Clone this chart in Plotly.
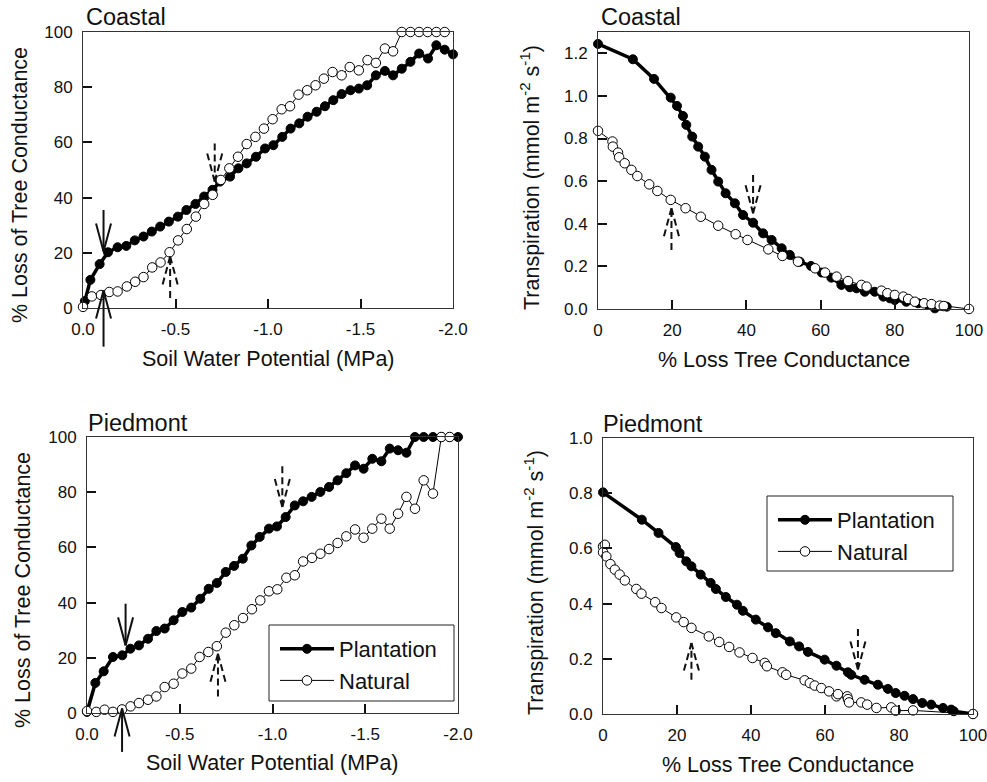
import plotly.graph_objects as go

W, H = 987, 782
FONT = "Liberation Sans, Arial, sans-serif"

# ---------------- DATA ----------------
# Coastal: % loss of tree conductance vs soil water potential (MPa)
coastal_plant_swp = [-0.01, -0.04, -0.09, -0.135, -0.187, -0.234, -0.28, -0.327, -0.372, -0.417,
                     -0.464, -0.513, -0.559, -0.608, -0.655, -0.70, -0.74, -0.795, -0.84, -0.885,
                     -0.935, -0.984, -1.029, -1.077, -1.122, -1.169, -1.214, -1.263, -1.308, -1.353,
                     -1.398, -1.446, -1.491, -1.536, -1.583, -1.632, -1.676, -1.723, -1.77, -1.817,
                     -1.865, -1.91, -1.955, -2.0]
coastal_plant_plc = [2.5, 10.2, 15.9, 20.2, 22.0, 22.5, 24.5, 25.9, 27.7, 29.5,
                     31.3, 33.1, 35.5, 37.7, 40.4, 42.8, 45.8, 47.6, 50.6, 52.4,
                     54.8, 57.8, 59.0, 62.0, 65.0, 66.9, 69.3, 71.1, 73.1, 75.3,
                     77.5, 78.9, 79.5, 80.7, 84.3, 85.9, 84.3, 86.7, 89.2, 92.2,
                     90.4, 95.2, 93.6, 91.9]
coastal_nat_swp = [0.0, -0.048, -0.097, -0.142, -0.187, -0.237, -0.282, -0.327, -0.374, -0.419,
                   -0.468, -0.514, -0.561, -0.61, -0.655, -0.701, -0.745, -0.791, -0.838, -0.885,
                   -0.932, -0.978, -1.025, -1.074, -1.119, -1.165, -1.212, -1.257, -1.302, -1.349,
                   -1.398, -1.442, -1.491, -1.538, -1.583, -1.632, -1.676, -1.723, -1.77, -1.817,
                   -1.863, -1.91, -1.955]
coastal_nat_plc = [0.4, 4.2, 4.7, 5.8, 6.0, 7.8, 9.5, 11.2, 14.7, 16.5,
                   20.2, 24.5, 28.6, 33.1, 37.7, 41.0, 46.4, 50.6, 54.8, 59.4,
                   62.0, 65.0, 68.4, 72.0, 73.1, 77.3, 78.9, 80.7, 83.1, 85.5,
                   84.3, 87.3, 86.1, 89.8, 88.8, 94.0, 93.0, 100, 100, 100,
                   100, 100, 100]

# Coastal: transpiration (mmol m-2 s-1) vs % loss tree conductance
coastal_plant_loss = [0, 9.4, 15.1, 19.6, 21.3, 22.9, 23.8, 25.4, 27.0, 28.8,
                      30.6, 32.4, 34.4, 36.9, 39.1, 41.8, 44.5, 46.8, 49.5, 51.7,
                      54.4, 57.4, 60.3, 62.9, 65.6, 67.9, 69.7, 71.9, 74.6, 76.9,
                      78.7, 80.0, 83.1, 86.3, 89.0, 90.8, 93.1, 94.0]
coastal_plant_tr = [1.244, 1.172, 1.080, 0.992, 0.953, 0.906, 0.864, 0.809, 0.762, 0.715,
                    0.653, 0.598, 0.543, 0.496, 0.441, 0.405, 0.355, 0.324, 0.285, 0.254,
                    0.222, 0.202, 0.171, 0.147, 0.113, 0.102, 0.097, 0.081, 0.081, 0.058,
                    0.050, 0.042, 0.034, 0.027, 0.019, 0.003, 0.014, 0.011]
coastal_nat_loss = [0, 3.9, 4.0, 5.4, 5.7, 7.2, 9.0, 10.6, 13.8, 16.0,
                    19.6, 23.6, 27.7, 32.4, 37.1, 40.3, 45.9, 49.7, 53.9, 58.5,
                    61.2, 64.3, 67.4, 71.0, 72.4, 76.4, 78.0, 80.0, 82.3, 83.6,
                    85.4, 87.9, 89.9, 92.1, 93.2, 100]
coastal_nat_tr = [0.836, 0.786, 0.762, 0.734, 0.712, 0.684, 0.653, 0.624, 0.585, 0.554,
                  0.512, 0.473, 0.433, 0.391, 0.351, 0.324, 0.280, 0.249, 0.222, 0.191,
                  0.171, 0.152, 0.131, 0.113, 0.105, 0.086, 0.074, 0.066, 0.058, 0.047,
                  0.034, 0.027, 0.023, 0.016, 0.014, 0.0]

# Piedmont: % loss of tree conductance vs soil water potential (MPa)
piedmont_plant_swp = [0.0, -0.045, -0.09, -0.14, -0.19, -0.234, -0.28, -0.329, -0.374, -0.419,
                      -0.467, -0.514, -0.562, -0.611, -0.656, -0.70, -0.748, -0.793, -0.84, -0.886,
                      -0.931, -0.981, -1.024, -1.071, -1.12, -1.165, -1.211, -1.258, -1.305, -1.351,
                      -1.398, -1.445, -1.491, -1.538, -1.587, -1.632, -1.677, -1.722, -1.768, -1.815,
                      -1.865, -1.91, -1.955, -2.0]
piedmont_plant_plc = [0.4, 10.9, 15.1, 20.3, 20.9, 23.3, 24.5, 26.9, 29.7, 30.6,
                      33.6, 36.6, 38.2, 41.4, 45.0, 47.1, 51.1, 53.3, 55.9, 60.7,
                      63.8, 66.8, 67.6, 71.0, 75.2, 76.7, 78.3, 80.1, 81.9, 84.3,
                      86.9, 89.7, 88.5, 92.1, 91.2, 95.8, 95.2, 94.3, 100, 100,
                      100, 100, 100, 100]
piedmont_nat_swp = [0.0, -0.05, -0.095, -0.14, -0.189, -0.235, -0.28, -0.329, -0.374, -0.419,
                    -0.467, -0.514, -0.562, -0.607, -0.654, -0.70, -0.748, -0.794, -0.841, -0.889,
                    -0.934, -0.981, -1.026, -1.075, -1.12, -1.165, -1.213, -1.258, -1.305, -1.351,
                    -1.398, -1.445, -1.491, -1.538, -1.587, -1.632, -1.677, -1.722, -1.768, -1.815,
                    -1.865, -1.91, -1.955]
piedmont_nat_plc = [0.7, 0.4, 1.2, 0.4, 1.3, 2.4, 3.6, 4.8, 6.0, 9.4,
                    10.6, 14.3, 16.1, 20.3, 22.1, 24.2, 29.1, 31.8, 34.4, 37.6,
                    40.8, 44.1, 44.8, 49.0, 49.9, 54.9, 56.2, 57.7, 59.4, 61.6,
                    64.0, 66.5, 63.5, 66.8, 70.4, 66.8, 72.2, 78.3, 74.0, 84.3,
                    79.5, 100, 100]

# Piedmont: transpiration (mmol m-2 s-1) vs % loss tree conductance
piedmont_plant_loss = [0, 10.5, 15.0, 19.7, 20.7, 22.5, 23.9, 26.4, 29.1, 30.5,
                       33.2, 36.2, 37.8, 41.3, 44.6, 46.7, 50.5, 53.0, 55.4, 59.9,
                       63.1, 66.2, 67.1, 70.7, 74.3, 77.0, 79.1, 81.5, 83.8, 86.3,
                       88.7, 91.9, 94.1, 94.8, 100]
piedmont_plant_tr = [0.803, 0.704, 0.656, 0.605, 0.583, 0.553, 0.535, 0.505, 0.475, 0.453,
                     0.424, 0.396, 0.374, 0.342, 0.314, 0.293, 0.263, 0.245, 0.225, 0.197,
                     0.175, 0.151, 0.142, 0.124, 0.106, 0.091, 0.076, 0.066, 0.054, 0.040,
                     0.034, 0.022, 0.016, 0.010, 0.0]
piedmont_nat_loss = [0, 0.5, 0, 0.9, 2.0, 3.2, 4.5, 5.9, 9.0, 10.4,
                     14.1, 15.8, 19.8, 21.8, 23.9, 28.6, 31.4, 34.1, 36.9, 40.4,
                     43.7, 44.3, 48.5, 49.5, 54.5, 55.9, 57.2, 59.0, 61.1, 63.1,
                     63.5, 66.0, 66.2, 66.5, 69.8, 71.4, 73.9, 77.9, 79.1, 83.8,
                     100]
piedmont_nat_tr = [0.607, 0.613, 0.586, 0.571, 0.543, 0.523, 0.505, 0.484, 0.453, 0.436,
                   0.405, 0.384, 0.350, 0.333, 0.312, 0.281, 0.261, 0.243, 0.223, 0.203,
                   0.185, 0.173, 0.151, 0.142, 0.122, 0.112, 0.103, 0.094, 0.082, 0.064,
                   0.072, 0.064, 0.054, 0.042, 0.042, 0.034, 0.022, 0.024, 0.012, 0.013,
                   0.0]

swp_ticks = [0, -0.5, -1.0, -1.5, -2.0]
swp_ticktext = ["0.0", "-0.5", "-1.0", "-1.5", "-2.0"]
plc_ticks = [0, 20, 40, 60, 80, 100]
loss_ticks = [0, 20, 40, 60, 80, 100]
tr_ticks_coastal = [0.0, 0.2, 0.4, 0.6, 0.8, 1.0, 1.2]
tr_ticks_piedmont = [0.0, 0.2, 0.4, 0.6, 0.8, 1.0]

series_names = ["Plantation", "Natural"]
panel_titles = ["Coastal", "Coastal", "Piedmont", "Piedmont"]

# arrows: (x_tail, y_tail, x_tip, y_tip, dashed) in data units of each panel
arrows = {
    1: [(-0.111, 35.5, -0.111, 20.5, False), (-0.111, -14.0, -0.111, 6.3, False),
        (-0.712, 59.6, -0.712, 45.8, True), (-0.471, 3.6, -0.471, 18.7, True)],
    2: [(41.8, 0.629, 41.8, 0.449, True), (19.8, 0.277, 19.8, 0.473, True)],
    3: [(-0.208, 39.6, -0.208, 24.5, False), (-0.189, -14.1, -0.189, 1.6, False),
        (-1.053, 89.4, -1.053, 74.6, True), (-0.706, 6.0, -0.706, 21.5, True)],
    4: [(23.9, 0.124, 23.9, 0.257, True), (68.9, 0.308, 68.9, 0.161, True)],
}

# ---------------- LAYOUT GEOMETRY (px) ----------------
boxes = {1: (83, 453, 32, 308), 2: (598, 969, 32, 309),
         3: (87, 458, 437, 713), 4: (603, 973, 438, 714)}
ranges = {1: ([0, -2.0], [0, 100]), 2: ([0, 100], [0, 1.3]),
          3: ([0, -2.0], [0, 100]), 4: ([0, 100], [0, 1.0])}
legend_boxes = {"legend": (269, 454, 625, 701), "legend2": (767, 953, 496, 571)}

fig = go.Figure()


def add_pair(i, xp, yp, xn, yn, legend_name):
    xa = "x" if i == 1 else f"x{i}"
    ya = "y" if i == 1 else f"y{i}"
    show = legend_name is not None
    fig.add_trace(go.Scatter(
        x=xp, y=yp, mode="lines+markers", name=series_names[0], xaxis=xa, yaxis=ya,
        line=dict(color="black", width=3.5),
        marker=dict(symbol="circle", size=9, color="black", line=dict(color="black", width=1)),
        cliponaxis=False, showlegend=show, legend=legend_name or "legend"))
    fig.add_trace(go.Scatter(
        x=xn, y=yn, mode="lines+markers", name=series_names[1], xaxis=xa, yaxis=ya,
        line=dict(color="black", width=1),
        marker=dict(symbol="circle", size=9.5, color="white", line=dict(color="black", width=1)),
        cliponaxis=False, showlegend=show, legend=legend_name or "legend"))


add_pair(1, coastal_plant_swp, coastal_plant_plc, coastal_nat_swp, coastal_nat_plc, None)
add_pair(2, coastal_plant_loss, coastal_plant_tr, coastal_nat_loss, coastal_nat_tr, None)
add_pair(3, piedmont_plant_swp, piedmont_plant_plc, piedmont_nat_swp, piedmont_nat_plc, "legend")
add_pair(4, piedmont_plant_loss, piedmont_plant_tr, piedmont_nat_loss, piedmont_nat_tr, "legend2")

tickfont = dict(family=FONT, size=17, color="#111")
axis_common = dict(showline=True, mirror=True, linecolor="#333", linewidth=1,
                   ticks="inside", ticklen=9, tickwidth=2, tickcolor="#111",
                   showgrid=False, zeroline=False, tickfont=tickfont,
                   ticklabelstandoff=6, ticklabeloverflow="allow",
                   automargin=False, fixedrange=True)

layout = dict(width=W, height=H, margin=dict(l=0, r=0, t=0, b=0),
              paper_bgcolor="white", plot_bgcolor="white",
              font=dict(family=FONT, color="#111"))

tick_sets = {1: (swp_ticks, swp_ticktext, plc_ticks, None),
             2: (loss_ticks, None, tr_ticks_coastal, ".1f"),
             3: (swp_ticks, swp_ticktext, plc_ticks, None),
             4: (loss_ticks, None, tr_ticks_piedmont, ".1f")}

for i, (x0, x1, y0, y1) in boxes.items():
    xk = "xaxis" if i == 1 else f"xaxis{i}"
    yk = "yaxis" if i == 1 else f"yaxis{i}"
    ya = "y" if i == 1 else f"y{i}"
    xa = "x" if i == 1 else f"x{i}"
    xt, xtt, yt, yfmt = tick_sets[i]
    xr, yr = ranges[i]
    xd = dict(axis_common, domain=[x0 / W, x1 / W], anchor=ya, range=xr, tickvals=xt)
    if xtt is not None:
        xd["ticktext"] = xtt
    yd = dict(axis_common, domain=[1 - y1 / H, 1 - y0 / H], anchor=xa, range=yr, tickvals=yt)
    if yfmt:
        yd["tickformat"] = yfmt
    layout[xk] = xd
    layout[yk] = yd

shapes = []
# legends (Piedmont panels): box drawn as a shape, entries by plotly legend
for lk, (lx0, lx1, ly0, ly1) in legend_boxes.items():
    shapes.append(dict(type="rect", xref="paper", yref="paper",
                       x0=lx0 / W, x1=lx1 / W, y0=1 - ly1 / H, y1=1 - ly0 / H,
                       line=dict(color="#222", width=1), fillcolor="white", layer="above"))
    layout[lk] = dict(bgcolor="rgba(0,0,0,0)", borderwidth=0,
                      font=dict(family=FONT, size=22, color="#111"),
                      itemwidth=54, xanchor="left", yanchor="top", traceorder="normal",
                      itemclick=False, itemdoubleclick=False,
                      x=(lx0 + 6) / W, y=1 - (ly0 + 3) / H)

annotations = []
title_pos = {1: (84, 17), 2: (599, 17), 3: (86, 423), 4: (601, 424)}
for i, (px, py) in title_pos.items():
    annotations.append(dict(text=panel_titles[i - 1], xref="paper", yref="paper",
                            x=px / W, y=1 - py / H, xanchor="left", yanchor="middle",
                            showarrow=False, font=dict(family=FONT, size=23.5, color="#111")))

xtitles = {1: "Soil Water Potential (MPa)", 2: "% Loss Tree Conductance",
           3: "Soil Water Potential (MPa)", 4: "% Loss Tree Conductance"}
ytitles = {1: "% Loss of Tree Conductance",
           2: "Transpiration (mmol m<sup>-2</sup> s<sup>-1</sup>)",
           3: "% Loss of Tree Conductance",
           4: "Transpiration (mmol m<sup>-2</sup> s<sup>-1</sup>)"}
xtitle_y = {1: 359, 2: 360, 3: 763, 4: 765}
ytitle_pos = {1: (20, 185), 2: (530, 178), 3: (23, 590), 4: (534, 583)}
for i, (x0, x1, y0, y1) in boxes.items():
    annotations.append(dict(text=xtitles[i], xref="paper", yref="paper",
                            x=(x0 + x1) / 2 / W, y=1 - xtitle_y[i] / H,
                            xanchor="center", yanchor="middle", showarrow=False,
                            font=dict(family=FONT, size=21.5, color="#111")))
    tx, ty = ytitle_pos[i]
    annotations.append(dict(text=ytitles[i], xref="paper", yref="paper",
                            x=tx / W, y=1 - ty / H, textangle=-90,
                            xanchor="center", yanchor="middle", showarrow=False,
                            font=dict(family=FONT, size=21.5, color="#111")))
layout["annotations"] = annotations

# arrows as unclipped shapes in axis-domain coordinates
HEAD_LEN, HEAD_HALF = 28, 7.5
for i, lst in arrows.items():
    x0, x1, y0, y1 = boxes[i]
    pw, ph = x1 - x0, y1 - y0
    xr, yr = ranges[i]
    xa = "x" if i == 1 else f"x{i}"
    ya = "y" if i == 1 else f"y{i}"

    def fx(v):
        return (v - xr[0]) / (xr[1] - xr[0])

    def fy(v):
        return (v - yr[0]) / (yr[1] - yr[0])

    for (xt_, yt_, xh, yh, dashed) in lst:
        dash = "7px,4px" if dashed else "solid"
        ln = dict(color="#111", width=2, dash=dash)
        common = dict(type="line", xref=f"{xa} domain", yref=f"{ya} domain", line=ln, layer="above")
        shapes.append(dict(common, x0=fx(xt_), y0=fy(yt_), x1=fx(xh), y1=fy(yh)))
        direction = 1 if yh > yt_ else -1  # +1 pointing up
        shaft = abs(fy(yh) - fy(yt_)) * ph
        hl = min(HEAD_LEN, 0.75 * shaft)
        back = -direction * hl / ph
        for s in (-1, 1):
            shapes.append(dict(common, x0=fx(xh) + s * HEAD_HALF / pw, y0=fy(yh) + back,
                               x1=fx(xh), y1=fy(yh)))
layout["shapes"] = shapes

fig.update_layout(**layout)
fig.write_html("out.html", config={"displayModeBar": False},
               post_script="document.body.style.margin='0px';document.body.style.overflow='hidden';")
